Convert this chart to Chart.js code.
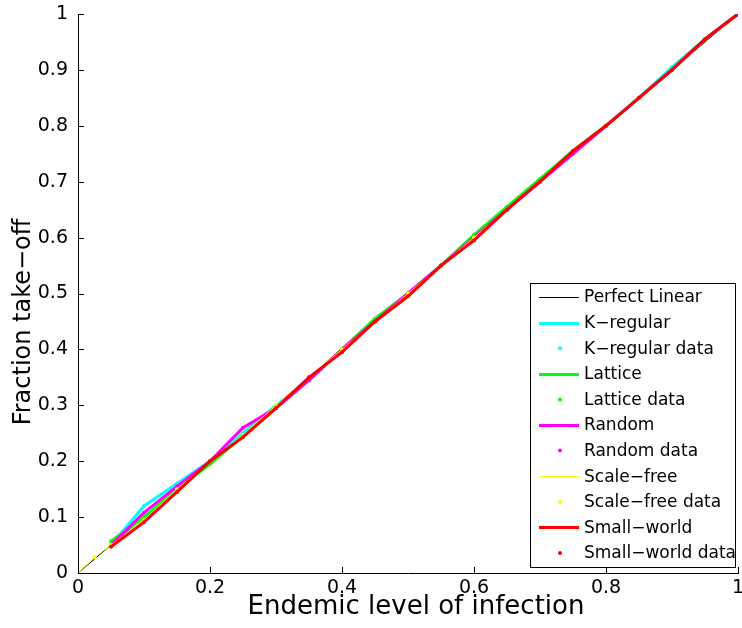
<!DOCTYPE html>
<html>
<head>
<meta charset="utf-8">
<script src="https://cdn.jsdelivr.net/npm/chart.js@4.4.1/dist/chart.umd.min.js"></script>
<style>
html,body{margin:0;padding:0;background:#fff;}
#wrap{width:742px;height:628px;position:relative;}
</style>
</head>
<body>
<div id="wrap"><canvas id="c" width="742" height="628"></canvas></div>
<script>
// ---- data ----
const xLevels = [0.05,0.1,0.15,0.2,0.25,0.3,0.35,0.4,0.45,0.5,0.55,0.6,0.65,0.7,0.75,0.8,0.85,0.9,0.95,1.0];
const perfectX = [0, 1];
const perfectY = [0, 1];
const kRegular  = [0.05,0.12,0.16,0.2,0.25,0.3,0.345,0.4,0.45,0.5,0.55,0.6,0.65,0.7,0.755,0.8,0.85,0.905,0.955,1.0];
const lattice   = [0.057,0.1,0.15,0.195,0.245,0.295,0.345,0.4,0.455,0.5,0.55,0.605,0.655,0.705,0.755,0.8,0.85,0.9,0.955,1.0];
const randomNet = [0.05,0.108,0.155,0.2,0.26,0.295,0.345,0.4,0.45,0.5,0.55,0.6,0.65,0.7,0.75,0.8,0.85,0.9,0.955,1.0];
const scaleFreeX = [0,0.025,0.05,0.1,0.15,0.2,0.25,0.3,0.35,0.4,0.45,0.5,0.55,0.6,0.65,0.7,0.75,0.8,0.85,0.9,0.95,1.0];
const scaleFree  = [0,0.028,0.05,0.095,0.15,0.2,0.247,0.3,0.35,0.4,0.45,0.5,0.55,0.6,0.65,0.7,0.755,0.8,0.85,0.9,0.955,1.0];
const smallWorld = [0.047,0.091,0.145,0.2,0.243,0.295,0.35,0.395,0.45,0.495,0.55,0.595,0.65,0.7,0.755,0.8,0.85,0.9,0.955,1.0];
const tickValues = [0,0.2,0.4,0.6,0.8,1];
const yTickValues = [0,0.1,0.2,0.3,0.4,0.5,0.6,0.7,0.8,0.9,1];
const xTitle = 'Endemic level of infection';
const yTitle = 'Fraction take\u2212off';

const pts = (xs, ys) => xs.map((x,i)=>({x:x,y:ys[i]}));
const lineDs = (label, xs, ys, color, w) => ({label, data: pts(xs,ys), showLine:true, borderColor:color, backgroundColor:color, borderWidth:w, pointRadius:0, pointHoverRadius:0, fill:false, tension:0, isLine:true});
const dotDs = (label, xs, ys, color) => ({label, data: pts(xs,ys), showLine:false, borderColor:color, backgroundColor:color, pointRadius:2, pointBorderWidth:0, isLine:false});

const datasets = [
  lineDs('Perfect Linear', perfectX, perfectY, '#000000', 1),
  lineDs('K\u2212regular', xLevels, kRegular, '#00ffff', 3),
  dotDs('K\u2212regular data', xLevels, kRegular, '#00ffff'),
  lineDs('Lattice', xLevels, lattice, '#00ff00', 3),
  dotDs('Lattice data', xLevels, lattice, '#00ff00'),
  lineDs('Random', xLevels, randomNet, '#ff00ff', 3),
  dotDs('Random data', xLevels, randomNet, '#ff00ff'),
  lineDs('Scale\u2212free', scaleFreeX, scaleFree, '#ffff00', 1),
  dotDs('Scale\u2212free data', scaleFreeX, scaleFree, '#ffff00'),
  lineDs('Small\u2212world', xLevels, smallWorld, '#ff0000', 3),
  dotDs('Small\u2212world data', xLevels, smallWorld, '#ff0000'),
];
// later datasets drawn on top
datasets.forEach((d,i)=>{ d.order = datasets.length - i; });

const FONT = '"DejaVu Sans", Verdana, sans-serif';

const axisDecor = {
  id:'axisDecor',
  afterDraw(chart){
    const ctx = chart.ctx, a = chart.chartArea;
    const xs = chart.scales.x, ys = chart.scales.y;
    ctx.save();
    ctx.strokeStyle = '#000'; ctx.lineWidth = 1;
    ctx.beginPath();
    xs.ticks.forEach(t=>{ const p = Math.round(xs.getPixelForValue(t.value))+0.5; ctx.moveTo(p, a.bottom); ctx.lineTo(p, a.bottom-6); });
    ys.ticks.forEach(t=>{ const p = Math.round(ys.getPixelForValue(t.value))+0.5; ctx.moveTo(a.left, p); ctx.lineTo(a.left+6, p); });
    ctx.stroke();
    ctx.fillStyle = '#000';
    ctx.textAlign = 'center'; ctx.textBaseline = 'middle';
    // x axis title
    ctx.font = '26px ' + FONT;
    ctx.fillText(xTitle, 416, 607);
    // y axis title
    ctx.font = '24px ' + FONT;
    ctx.translate(24, 322);
    ctx.rotate(-Math.PI/2);
    ctx.fillText(yTitle, 0, 0);
    ctx.restore();
  }
};

const boxLegend = {
  id:'boxLegend',
  afterDraw(chart){
    const ctx = chart.ctx;
    const left = 530, top = 283, right = 735, bottom = 567;
    ctx.save();
    ctx.fillStyle = '#fff';
    ctx.fillRect(left, top, right-left, bottom-top);
    ctx.strokeStyle = '#000'; ctx.lineWidth = 1;
    ctx.strokeRect(left+0.5, top+0.5, right-left, bottom-top);
    const n = chart.data.datasets.length;
    const y0 = 297, step = (553-297)/(n-1);
    ctx.font = '17px ' + FONT;
    ctx.textBaseline = 'middle';
    chart.data.datasets.forEach((ds,i)=>{
      const y = y0 + i*step;
      if (ds.isLine){
        const yy = Math.round(y) + (ds.borderWidth%2?0.5:0);
        ctx.strokeStyle = ds.borderColor; ctx.lineWidth = ds.borderWidth;
        ctx.beginPath(); ctx.moveTo(539, yy); ctx.lineTo(579, yy); ctx.stroke();
      } else {
        ctx.fillStyle = ds.backgroundColor;
        ctx.beginPath(); ctx.arc(560, y, 2, 0, Math.PI*2); ctx.fill();
      }
      ctx.fillStyle = '#000';
      ctx.fillText(ds.label, 584, y+1);
    });
    ctx.restore();
  }
};

new Chart(document.getElementById('c'), {
  type:'scatter',
  data:{datasets},
  options:{
    responsive:false,
    animation:false,
    events:[],
    layout:{padding:{left:0,right:2,top:14,bottom:0}},
    plugins:{legend:{display:false}, tooltip:{enabled:false}},
    scales:{
      x:{
        type:'linear', min:0, max:1,
        afterFit(s){ s.height = 55; s.paddingLeft = 0; s.paddingRight = 0; },
        afterBuildTicks(s){ s.ticks = tickValues.map(v=>({value:v})); },
        grid:{display:false, drawTicks:false},
        border:{display:true, color:'#000', width:1},
        ticks:{color:'#000', font:{family:FONT, size:19}, padding:4, maxRotation:0, autoSkip:false,
          callback:(v)=> String(+v.toFixed(1))},
        title:{display:false}
      },
      y:{
        type:'linear', min:0, max:1,
        afterFit(s){ s.width = 78; s.paddingTop = 0; s.paddingBottom = 0; },
        afterBuildTicks(s){ s.ticks = yTickValues.map(v=>({value:v})); },
        grid:{display:false, drawTicks:false},
        border:{display:true, color:'#000', width:1},
        ticks:{color:'#000', font:{family:FONT, size:19}, padding:10, autoSkip:false,
          callback:(v)=> String(+v.toFixed(1))},
        title:{display:false}
      }
    }
  },
  plugins:[axisDecor, boxLegend]
});
</script>
</body>
</html>
